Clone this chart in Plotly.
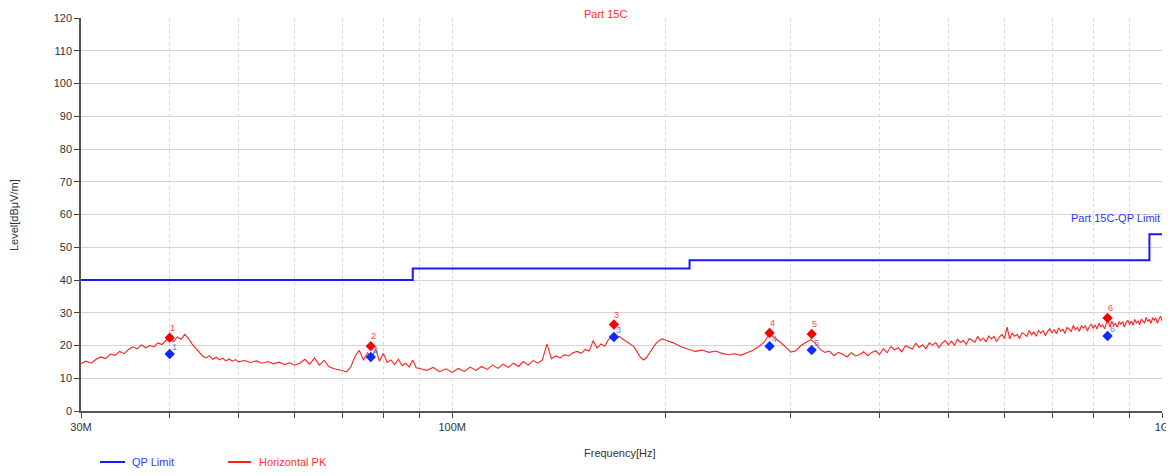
import math
import plotly.graph_objects as go

# ---- data (frequency in MHz, level in dBuV/m) ----
pk_freq_mhz = [
    30, 30.5, 31, 31.5, 32, 32.5, 33, 33.5, 34, 34.5, 35, 35.5, 36, 36.5, 37, 37.5, 38, 38.5, 39, 39.5,
    40, 40.5, 41, 41.5, 42, 42.5, 43, 43.5, 44, 44.5, 45, 45.5, 46, 46.5, 47, 47.5, 48, 48.5, 49, 49.5, 50,
    51, 52, 53, 54, 55, 56, 57, 58, 59, 60, 61, 62, 63, 64, 65, 66, 67, 68, 69, 70,
    71, 72, 73, 74, 75, 76, 77, 78, 79, 80, 81, 82, 83, 84, 85, 86, 87, 88, 89, 90,
    92, 94, 96, 98, 100, 102, 104, 106, 108, 110, 112, 114, 116, 118, 120, 122, 124, 126, 128, 130,
    132, 134, 136, 138, 140, 142, 144, 146, 148, 150, 152, 154, 156, 158, 160, 162, 164, 166, 168, 170,
    172, 174, 176, 178, 180, 182, 184, 186, 188, 190, 192, 194, 196, 198, 200,
    205, 210, 215, 220, 225, 230, 235, 240, 245, 250, 255, 260, 265, 270, 275, 280, 285, 290, 295, 300,
    305, 310, 315, 320, 325, 330, 335, 340, 345, 350, 355, 360, 365, 370, 375, 380, 385, 390, 395, 400,
    405, 410, 415, 420, 425, 430, 435, 440, 445, 450, 455, 460, 465, 470, 475, 480, 485, 490, 495, 500,
    505, 510, 515, 520, 525, 530, 535, 540, 545, 550, 555, 560, 565, 570, 575, 580, 585, 590, 595, 600,
    605, 610, 615, 620, 625, 630, 635, 640, 645, 650, 655, 660, 665, 670, 675, 680, 685, 690, 695, 700,
    705, 710, 715, 720, 725, 730, 735, 740, 745, 750, 755, 760, 765, 770, 775, 780, 785, 790, 795, 800,
    805, 810, 815, 820, 825, 830, 835, 840, 845, 850, 855, 860, 865, 870, 875, 880, 885, 890, 895, 900,
    905, 910, 915, 920, 925, 930, 935, 940, 945, 950, 955, 960, 965, 970, 975, 980, 985, 990, 995, 1000,
]
pk_level = [
    14.5, 15.2, 14.6, 15.8, 16.5, 16.0, 17.4, 17.0, 18.2, 17.5, 18.8, 19.6, 19.0, 20.2, 19.3, 20.0, 19.6, 20.8, 20.3, 21.5,
    21.8, 21.2, 22.6, 21.9, 23.4, 22.2, 20.5, 19.2, 18.0, 16.8, 16.2, 16.9, 15.8, 16.4, 15.6, 16.1, 15.3, 15.9, 15.2, 15.7, 15.0,
    15.4, 14.8, 15.3, 14.6, 15.1, 14.4, 14.9, 14.2, 14.7, 14.0, 14.6, 15.8, 14.3, 16.2, 14.0, 15.5, 13.6, 13.0, 12.6, 12.2,
    12.0, 13.5, 16.8, 18.5, 15.5, 17.8, 16.0, 19.0, 15.2, 17.6, 14.8, 15.6, 14.2, 15.8, 13.8, 14.6, 13.4, 15.5, 13.2, 13.0,
    12.4, 13.3, 12.0, 12.9, 11.8, 13.0, 12.1, 13.4, 12.4, 13.6, 12.7, 14.0, 13.0, 14.3, 13.3, 14.6, 13.6, 15.1, 14.0, 15.4,
    14.6, 15.6, 20.5, 16.0, 16.8, 16.2, 17.2, 16.8, 17.8, 18.2, 17.6, 18.8, 18.3, 21.5, 19.2, 20.5, 19.8, 21.8, 22.6, 22.0,
    22.8, 21.9, 21.2, 20.6, 19.8, 18.2, 16.5, 15.6, 16.4, 18.0, 19.5, 20.8, 21.6, 22.0, 21.6,
    20.8, 19.6, 18.8, 18.2, 18.6, 17.9, 18.3, 17.6, 17.2, 17.5, 17.0, 17.8, 18.5, 19.6, 21.0, 23.6, 22.4, 21.0, 19.5, 18.0,
    18.4, 20.0, 20.9, 21.8, 20.6, 18.8, 17.9, 18.3, 16.9, 17.9, 17.3, 16.5, 17.8, 16.8, 17.2, 18.1, 16.9, 17.9, 18.4, 17.3,
    19.0, 17.8, 19.7, 18.7, 19.3, 18.1, 19.9, 19.5, 18.9, 20.7, 19.4, 20.2, 19.0, 20.8, 20.1, 20.9, 19.3, 20.7, 21.5, 20.2,
    21.3, 20.1, 21.9, 20.9, 21.5, 20.3, 22.1, 21.6, 21.0, 22.8, 21.5, 22.3, 21.1, 22.9, 22.0, 22.8, 21.2, 22.6, 23.4, 22.1,
    25.6, 22.0, 23.8, 22.8, 23.4, 22.1, 23.9, 23.4, 22.8, 24.6, 23.3, 24.1, 22.8, 24.6, 23.8, 24.6, 23.0, 24.3, 25.1, 23.8,
    24.9, 23.6, 25.4, 24.4, 25.0, 23.7, 25.5, 25.0, 24.3, 26.1, 24.8, 25.5, 24.3, 26.1, 25.3, 26.0, 24.4, 25.8, 26.5, 25.2,
    26.3, 25.0, 26.8, 25.7, 26.3, 25.1, 26.8, 27.4, 25.6, 27.4, 26.1, 26.8, 25.6, 27.3, 26.5, 27.3, 25.6, 27.0, 27.7, 26.4,
    27.5, 26.2, 28.0, 26.9, 27.5, 26.3, 28.0, 27.5, 26.8, 28.6, 27.3, 28.0, 26.8, 28.5, 27.7, 28.4, 26.8, 28.1, 28.9, 27.5,
]

limit_freq_mhz = [30, 88, 88, 216, 216, 960, 960, 1000]
limit_level = [40, 40, 43.5, 43.5, 46, 46, 54, 54]

marker_labels = ["1", "2", "3", "4", "5", "6"]
marker_freq_mhz = [40.0, 76.8, 169.0, 280.0, 321.0, 838.0]
marker_pk = [22.4, 19.8, 26.4, 23.8, 23.5, 28.4]
marker_qp = [17.4, 16.5, 22.6, 19.8, 18.6, 22.9]

x_tick_vals_mhz = [30, 100, 1000]
x_tick_text = ["30M", "100M", "1G"]
x_minor_mhz = [40, 50, 60, 70, 80, 90, 200, 300, 400, 500, 600, 700, 800, 900]

MHZ = 1e6
FONT = "Liberation Sans, Arial, sans-serif"
RED = "#ff2020"
BLUE = "#1a1aff"

# The page body has an 8px margin, so the figure is drawn at (8, 8) in the window.
OFF = 8
W, H = 1174 - OFF, 476 - 2 * OFF
# plot area in window pixels: x 81..1162, y 18..411
L, R, T, B = 81 - OFF, W - (1162 - OFF), 18 - OFF, H - (411 - OFF)
PW, PH = W - L - R, H - T - B


def px(xw):  # window pixel x -> paper
    return (xw - OFF - L) / PW


def py(yw):  # window pixel y -> paper
    return (H - B - (yw - OFF)) / PH


fig = go.Figure()

fig.add_trace(go.Scatter(
    x=[f * MHZ for f in limit_freq_mhz], y=limit_level, mode="lines",
    line=dict(color=BLUE, width=2), showlegend=False, name="QP Limit",
))
fig.add_trace(go.Scatter(
    x=[f * MHZ for f in pk_freq_mhz], y=pk_level, mode="lines",
    line=dict(color=RED, width=1.1), showlegend=False, name="Horizontal PK",
))
fig.add_trace(go.Scatter(
    x=[f * MHZ for f in marker_freq_mhz], y=marker_pk, mode="markers",
    marker=dict(symbol="diamond", color="#ff0000", size=8), showlegend=False,
))
fig.add_trace(go.Scatter(
    x=[f * MHZ for f in marker_freq_mhz], y=marker_qp, mode="markers",
    marker=dict(symbol="diamond", color="#0a2aff", size=8), showlegend=False,
))

annotations = []
for lab, f, pk, qp in zip(marker_labels, marker_freq_mhz, marker_pk, marker_qp):
    lx = math.log10(f * MHZ)
    annotations.append(dict(text=lab, x=lx, y=pk, xref="x", yref="y", showarrow=False,
                            xshift=3, yshift=10, font=dict(color="#ff4040", size=9, family=FONT)))
    annotations.append(dict(text=lab, x=lx, y=qp, xref="x", yref="y", showarrow=False,
                            xshift=5, yshift=7, font=dict(color="#6080ff", size=9, family=FONT)))

annotations += [
    dict(text="Part 15C", x=px(605), y=py(14), xref="paper", yref="paper",
         xanchor="center", yanchor="middle", showarrow=False,
         font=dict(color="#ff3030", size=11, family=FONT)),
    dict(text="Part 15C-QP Limit", x=9, y=56.5, xref="x", yref="y",
         xanchor="right", yanchor="bottom", showarrow=False,
         font=dict(color="#3333ff", size=11, family=FONT)),
    dict(text="Frequency[Hz]", x=px(620), y=py(453), xref="paper", yref="paper",
         xanchor="center", yanchor="middle", showarrow=False,
         font=dict(color="#333333", size=11, family=FONT)),
    dict(text="Level[dBμV/m]", x=px(14), y=py(215), xref="paper", yref="paper",
         xanchor="center", yanchor="middle", showarrow=False, textangle=-90,
         font=dict(color="#333333", size=11, family=FONT)),
    dict(text="<span style='color:#3333ff'>QP Limit</span>", x=px(130), y=py(462), xref="paper", yref="paper",
         xanchor="left", yanchor="middle", showarrow=False, font=dict(size=11, family=FONT)),
    dict(text="<span style='color:#ff3333'>Horizontal PK</span>", x=px(257), y=py(462), xref="paper", yref="paper",
         xanchor="left", yanchor="middle", showarrow=False, font=dict(size=11, family=FONT)),
]

shapes = [
    dict(type="line", xref="paper", yref="paper", x0=px(100), x1=px(125), y0=py(462), y1=py(462),
         line=dict(color=BLUE, width=2)),
    dict(type="line", xref="paper", yref="paper", x0=px(228), x1=px(251), y0=py(462), y1=py(462),
         line=dict(color=RED, width=2)),
]

fig.update_layout(
    width=W, height=H,
    margin=dict(l=L, r=R, t=T, b=B, autoexpand=False),
    paper_bgcolor="white", plot_bgcolor="white",
    font=dict(family=FONT, size=11, color="#333333"),
    showlegend=False,
    xaxis=dict(
        type="log", range=[math.log10(30e6), 9], automargin=False,
        tickmode="array", tickvals=[v * MHZ for v in x_tick_vals_mhz], ticktext=x_tick_text,
        ticks="outside", ticklen=5, tickcolor="#444444",
        showline=True, linecolor="#555555", linewidth=1.5,
        showgrid=True, gridcolor="#d8d8d8", griddash="dot", gridwidth=1,
        minor=dict(tickmode="array", tickvals=[v * MHZ for v in x_minor_mhz],
                   ticks="outside", ticklen=5, tickcolor="#444444",
                   showgrid=True, gridcolor="#d8d8d8", griddash="dot", gridwidth=1),
        zeroline=False, tickfont=dict(size=11, color="#333333"),
    ),
    yaxis=dict(
        range=[0, 120], dtick=10, tick0=0, automargin=False,
        ticks="outside", ticklen=5, tickcolor="#444444",
        showline=True, linecolor="#555555", linewidth=1.5,
        showgrid=True, gridcolor="#d5d5d5", gridwidth=1,
        zeroline=False, tickfont=dict(size=11, color="#333333"),
    ),
    annotations=annotations,
    shapes=shapes,
)

fig.write_html("out.html")
